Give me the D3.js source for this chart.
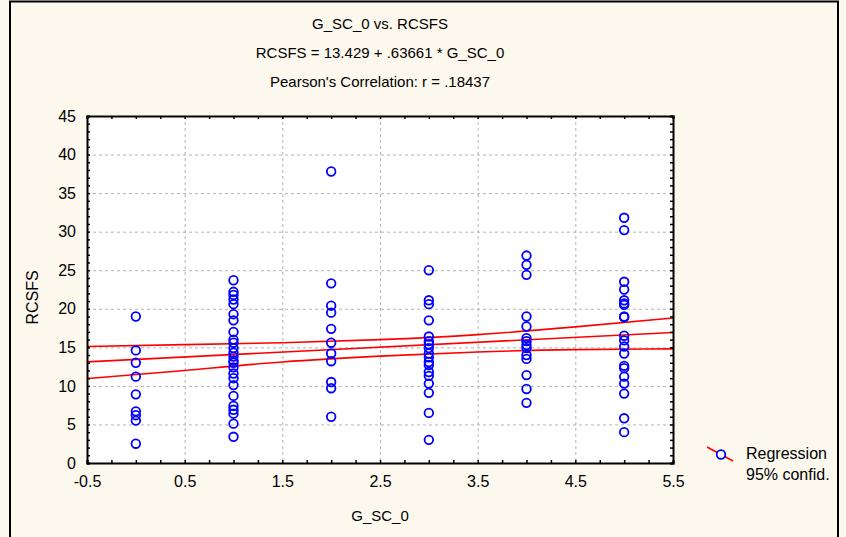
<!DOCTYPE html>
<html>
<head>
<meta charset="utf-8">
<script src="https://cdn.jsdelivr.net/npm/d3@7"></script>
<style>
  body { margin: 0; background: #fdf8ee; }
  text { font-family: Arial, "Liberation Sans", sans-serif; fill: #000; }
  .grid .domain { display: none; }
</style>
</head>
<body>
<div id="scatter"></div>
<script>
// values, one list per G_SC_0 group
var groupX = [0, 1, 2, 3, 4, 5];
var rcsfs0 = [19.0, 14.6, 13.0, 11.2, 8.9, 6.7, 6.2, 5.5, 2.5];
var rcsfs1 = [23.7, 22.2, 21.8, 21.2, 20.6, 19.3, 18.5, 17.0, 16.0, 15.6, 14.9, 14.3,
  13.8, 13.3, 13.0, 12.4, 11.6, 11.0, 10.1, 8.7, 7.4, 6.9, 6.4, 5.1, 3.4];
var rcsfs2 = [37.8, 23.3, 20.4, 19.5, 17.4, 15.6, 14.2, 13.2, 10.5, 9.7, 6.0];
var rcsfs3 = [25.0, 21.1, 20.6, 18.5, 16.4, 15.8, 15.4, 14.9, 14.2, 13.7, 13.1, 12.7,
  11.8, 11.3, 10.3, 9.1, 6.5, 3.0];
var rcsfs4 = [26.9, 25.7, 24.4, 19.0, 17.7, 16.2, 15.8, 15.3, 14.9, 14.0, 13.5, 11.4, 9.6, 7.8];
var rcsfs5 = [31.8, 30.2, 23.5, 22.5, 21.1, 20.7, 20.5, 19.0, 18.9, 16.5, 15.9, 15.1,
  14.2, 12.6, 12.3, 11.2, 10.3, 9.0, 5.8, 4.0];
var groupValues = [rcsfs0, rcsfs1, rcsfs2, rcsfs3, rcsfs4, rcsfs5];

// fit given in the title
var intercept = 13.429;
var slope = 0.63661;

// 95% confidence band at the labelled x positions
var bandX = [-0.5, 0.5, 1.5, 2.5, 3.5, 4.5, 5.5];
var bandUpper = [15.1, 15.35, 15.6, 16.0, 16.65, 17.65, 18.8];
var bandLower = [10.95, 12.0, 13.1, 13.86, 14.4, 14.7, 14.8];

var xTickValues = [-0.5, 0.5, 1.5, 2.5, 3.5, 4.5, 5.5];
var yTickValues = [0, 5, 10, 15, 20, 25, 30, 35, 40, 45];
var titleLines = ["G_SC_0 vs. RCSFS", "RCSFS = 13.429 + .63661 * G_SC_0", "Pearson's Correlation: r = .18437"];
var legendLabels = ["Regression", "95% confid."];

var svgWidth = 846;
var svgHeight = 537;

var margin = { top: 116, right: 173, bottom: 74, left: 87 };
var width = svgWidth - margin.left - margin.right;
var height = svgHeight - margin.top - margin.bottom;

var svg = d3.select("#scatter")
  .append("svg")
  .attr("width", svgWidth)
  .attr("height", svgHeight);

// window background and frame
svg.append("rect")
  .attr("width", svgWidth)
  .attr("height", svgHeight)
  .attr("fill", "#fdf8ee");
svg.append("path")
  .attr("d", "M10,537 V1.5 H838 V537")
  .attr("fill", "none")
  .attr("stroke", "#000")
  .attr("stroke-width", 2);

var chartGroup = svg.append("g")
  .attr("transform", `translate(${margin.left}, ${margin.top})`);

chartGroup.append("rect")
  .attr("width", width)
  .attr("height", height)
  .attr("fill", "#fff");

var xScale = d3.scaleLinear().domain([-0.5, 5.5]).range([0, width]);
var yScale = d3.scaleLinear().domain([0, 45]).range([height, 0]);

// grid
chartGroup.append("g")
  .attr("class", "grid")
  .call(d3.axisBottom(xScale).tickValues(xTickValues.slice(1, -1)).tickSize(height).tickFormat(""));
chartGroup.append("g")
  .attr("class", "grid")
  .call(d3.axisLeft(yScale).tickValues(yTickValues.slice(1, -1)).tickSize(-width).tickFormat(""));
chartGroup.selectAll(".grid .tick line")
  .attr("stroke", "#b4b4b4")
  .attr("stroke-dasharray", "3,3");

// regression line and confidence band
var line = d3.line()
  .x(d => xScale(d[0]))
  .y(d => yScale(d[1]))
  .curve(d3.curveNatural);
var lineSets = [
  [[-0.5, intercept + slope * -0.5], [5.5, intercept + slope * 5.5]],
  bandX.map((x, i) => [x, bandUpper[i]]),
  bandX.map((x, i) => [x, bandLower[i]])
];
chartGroup.selectAll(".fit")
  .data(lineSets)
  .enter()
  .append("path")
  .attr("class", "fit")
  .attr("d", line)
  .attr("fill", "none")
  .attr("stroke", "#ff0000")
  .attr("stroke-width", 1.6);

// points
var points = [];
groupValues.forEach(function(vals, i) {
  vals.forEach(function(v) { points.push({ x: groupX[i], y: v }); });
});

chartGroup.selectAll("circle")
  .data(points)
  .enter()
  .append("circle")
  .attr("cx", d => xScale(d.x))
  .attr("cy", d => yScale(d.y))
  .attr("r", 4.3)
  .attr("fill", "none")
  .attr("stroke", "#0000ff")
  .attr("stroke-width", 1.8);

// axes with small inward ticks on all sides
var minorX = d3.range(0, 25).map(i => -0.5 + i * 0.25);
var minorY = d3.range(0, 46);
chartGroup.append("g").attr("class", "frame").attr("transform", `translate(0, ${height})`)
  .call(d3.axisBottom(xScale).tickValues(minorX).tickSize(-3).tickFormat(""));
chartGroup.append("g").attr("class", "frame")
  .call(d3.axisTop(xScale).tickValues(minorX).tickSize(-3).tickFormat(""));
chartGroup.append("g").attr("class", "frame")
  .call(d3.axisLeft(yScale).tickValues(minorY).tickSize(-3).tickFormat(""));
chartGroup.append("g").attr("class", "frame").attr("transform", `translate(${width}, 0)`)
  .call(d3.axisRight(yScale).tickValues(minorY).tickSize(-3).tickFormat(""));
chartGroup.selectAll(".frame .domain").attr("stroke", "#000").attr("stroke-width", 2);
chartGroup.selectAll(".frame .tick line").attr("stroke", "#000").attr("stroke-width", 1.5);

// tick labels (plain hyphen for the minus sign)
chartGroup.append("g").attr("transform", `translate(0, ${height})`)
  .call(d3.axisBottom(xScale).tickValues(xTickValues).tickSize(0).tickPadding(13).tickFormat(d => String(d)))
  .call(g => g.select(".domain").remove())
  .selectAll("text").attr("font-size", 16).attr("font-family", null);
chartGroup.append("g")
  .call(d3.axisLeft(yScale).tickValues(yTickValues).tickSize(0).tickPadding(11))
  .call(g => g.select(".domain").remove())
  .selectAll("text").attr("font-size", 16).attr("font-family", null);

// axis titles
chartGroup.append("text")
  .attr("x", width / 2)
  .attr("y", height + 58)
  .attr("text-anchor", "middle")
  .attr("font-size", 15)
  .text("G_SC_0");
chartGroup.append("text")
  .attr("transform", "rotate(-90)")
  .attr("x", -(height / 2) - 8)
  .attr("y", -49)
  .attr("text-anchor", "middle")
  .attr("font-size", 16)
  .text("RCSFS");

// title block
svg.selectAll(".title")
  .data(titleLines)
  .enter()
  .append("text")
  .attr("class", "title")
  .attr("x", margin.left + width / 2)
  .attr("y", (d, i) => 29 + i * 29)
  .attr("text-anchor", "middle")
  .attr("font-size", 15)
  .text(d => d);

// legend
var legend = svg.append("g").attr("transform", "translate(707, 447)");
legend.append("line")
  .attr("x1", 0).attr("y1", 0).attr("x2", 26).attr("y2", 14)
  .attr("stroke", "#ff0000").attr("stroke-width", 1.6);
legend.append("circle")
  .attr("cx", 14).attr("cy", 7.5).attr("r", 4.3)
  .attr("fill", "#fff").attr("stroke", "#0000ff").attr("stroke-width", 1.8);
legend.selectAll(".legend-label")
  .data(legendLabels)
  .enter()
  .append("text")
  .attr("class", "legend-label")
  .attr("x", 39)
  .attr("y", (d, i) => 12 + i * 21)
  .attr("font-size", 16)
  .text(d => d);
</script>
</body>
</html>
